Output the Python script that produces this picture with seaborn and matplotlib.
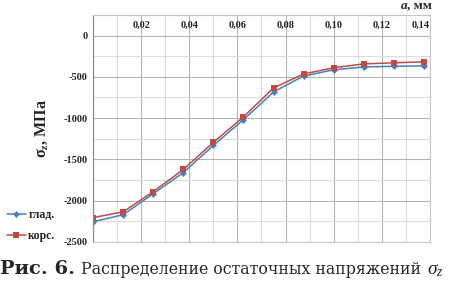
import numpy as np
import pandas as pd
import matplotlib
matplotlib.use("Agg")
import matplotlib.pyplot as plt
import seaborn as sns
from matplotlib.ticker import MultipleLocator, FixedLocator, FuncFormatter

sns.set_style("white")
plt.rcParams['font.family'] = ['Liberation Serif', 'DejaVu Serif']
plt.rcParams['axes.unicode_minus'] = False
plt.rcParams['mathtext.fontset'] = 'custom'
plt.rcParams['mathtext.rm'] = 'Liberation Serif'
plt.rcParams['mathtext.it'] = 'Liberation Serif:italic'
plt.rcParams['mathtext.bf'] = 'Liberation Serif:bold:italic'

# depth, mm
depth = [0.0, 0.0125, 0.025, 0.0375, 0.05, 0.0625, 0.075, 0.0875, 0.1, 0.1125, 0.125, 0.1375]
# residual stress, MPa
glad = [-2255, -2170, -1915, -1660, -1330, -1020, -683, -490, -415, -380, -372, -366]
kors = [-2205, -2135, -1890, -1622, -1293, -985, -634, -465, -390, -343, -330, -318]
series_names = ["глад.", "корс."]
x_ticks = [0.02, 0.04, 0.06, 0.08, 0.10, 0.12, 0.14]
y_ticks = [0, -500, -1000, -1500, -2000, -2500]

df = pd.DataFrame({
    "a": depth * 2,
    "sigma": glad + kors,
    "series": [series_names[0]] * len(depth) + [series_names[1]] * len(depth),
})

colors = {"глад.": "#4A7EBB", "корс.": "#BE4B48"}
markers = {"глад.": "D", "корс.": "s"}

fig = plt.figure(figsize=(4.52, 2.82), dpi=100)
ax = fig.add_axes([0.206, 0.142, 0.745, 0.805])

for name in series_names:
    sub = df[df.series == name]
    sns.lineplot(data=sub, x="a", y="sigma", color=colors[name], marker=markers[name],
                 markersize=3.5 if name == "глад." else 5, markeredgewidth=0,
                 linewidth=1.1, label=name, ax=ax)

ax.set_xlim(0, 0.14)
ax.set_ylim(-2500, 250)
ax.yaxis.set_major_locator(FixedLocator(y_ticks))
ax.yaxis.set_minor_locator(MultipleLocator(250))
ax.xaxis.set_major_locator(FixedLocator(x_ticks))
ax.xaxis.set_minor_locator(MultipleLocator(0.01))
ax.xaxis.set_major_formatter(FuncFormatter(lambda v, p: f"{v:.2f}".replace(".", ",")))
ax.yaxis.set_major_formatter(FuncFormatter(lambda v, p: str(int(v))))

ax.grid(which="major", color="#b4b4b4", linewidth=0.8)
ax.grid(which="minor", color="#dcdcdc", linewidth=0.8)
ax.set_axisbelow(True)

ax.xaxis.tick_top()
ax.tick_params(axis="x", which="both", length=0, pad=-11, labelsize=7.5)
ax.tick_params(axis="y", which="major", length=3, color="#909090", pad=1, labelsize=7.5)
ax.tick_params(axis="y", which="minor", length=0)
for lab in ax.get_xticklabels() + ax.get_yticklabels():
    lab.set_fontweight("bold")
ax.get_xticklabels()[-1].set_horizontalalignment("right")

for side in ["top", "right", "bottom"]:
    ax.spines[side].set_color("#c8c8c8")
    ax.spines[side].set_linewidth(0.8)
ax.spines["left"].set_color("#8c8c8c")
ax.spines["left"].set_linewidth(0.9)

ax.set_xlabel("")
ax.set_ylabel(r"σ$_\mathbf{z}$, МПа", fontsize=11.5, fontweight="bold", labelpad=10)

ax.text(0.915, 1.015, "a", transform=ax.transAxes, fontsize=9.5, fontweight="bold",
        fontstyle="italic", ha="left", va="bottom")
ax.text(0.932, 1.015, ", мм", transform=ax.transAxes, fontsize=9.5, fontweight="bold",
        ha="left", va="bottom")

leg = ax.legend(loc="center left", bbox_to_anchor=(0.005, 0.20), bbox_transform=fig.transFigure,
                frameon=False, handlelength=1.6, handletextpad=0.2, labelspacing=0.8,
                borderaxespad=0, prop={"family": "Liberation Serif", "weight": "bold", "size": 8.5})

# caption
fig.canvas.draw()
r = fig.canvas.get_renderer()
t1 = fig.text(0.0, 0.028, "Рис. 6.", fontsize=14, fontweight="bold", family="DejaVu Serif",
              ha="left", va="baseline")
bb1 = t1.get_window_extent(r)
t2 = fig.text((bb1.x1 + 6) / fig.bbox.width, 0.028, "Распределение остаточных напряжений",
              fontsize=11.3, family="DejaVu Serif", ha="left", va="baseline")
bb2 = t2.get_window_extent(r)
fig.text((bb2.x1 + 6) / fig.bbox.width, 0.028, r"$\sigma_z$", fontsize=14, ha="left", va="baseline")

fig.savefig("out.png", dpi=100)
